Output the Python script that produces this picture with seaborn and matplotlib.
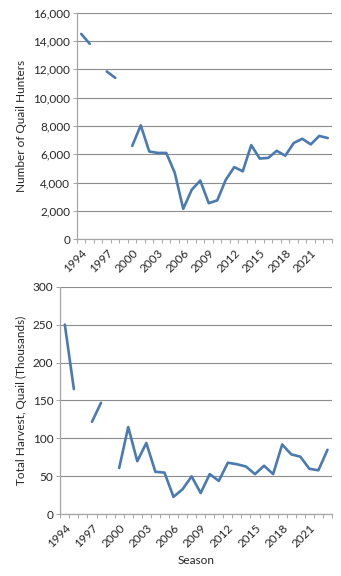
import numpy as np
import pandas as pd
import matplotlib
matplotlib.use("Agg")
import matplotlib.pyplot as plt
import matplotlib.ticker as mticker
import seaborn as sns

seasons = list(range(1994, 2024))
hunters = [14500, 13800, np.nan, 11850, 11400, np.nan, 6600, 8050, 6200, 6100,
           6100, 4700, 2150, 3500, 4150, 2550, 2750, 4200, 5100, 4800,
           6650, 5700, 5750, 6250, 5900, 6800, 7100, 6700, 7300, 7150]
harvest = [250, 165, np.nan, 122, 147, np.nan, 61, 115, 70, 94,
           56, 55, 23, 33, 50, 28, 53, 44, 68, 66,
           63, 53, 64, 53, 92, 79, 76, 60, 58, 85]
tick_years = list(range(1994, 2024, 3))

sns.set_theme(style="white")
plt.rcParams["font.family"] = ["Lato", "DejaVu Sans"]

LINE = "#4a7ab2"
GRID = "#8c8c8c"
AXIS = "#a6a6a6"
TEXT = "#262626"
FS = 8.5


def frame(values):
    df = pd.DataFrame({"season": seasons, "value": values})
    df["pos"] = np.arange(len(df))
    # consecutive runs of valid values become separate line segments
    df["seg"] = df["value"].isna().cumsum()
    return df.dropna()


def style(ax, ylim, step, fmt, ylabel, xlabel=None):
    n = len(seasons)
    ax.set_xlim(-0.5, n - 0.5)
    ax.set_ylim(*ylim)
    ax.yaxis.set_major_locator(mticker.MultipleLocator(step))
    ax.yaxis.set_major_formatter(mticker.FuncFormatter(fmt))
    ax.grid(axis="y", color=GRID, linewidth=0.8)
    ax.set_axisbelow(True)
    for s in ("top", "right"):
        ax.spines[s].set_visible(False)
    for s in ("left", "bottom"):
        ax.spines[s].set_color(AXIS)
        ax.spines[s].set_linewidth(0.9)
    ax.set_xticks([seasons.index(y) for y in tick_years])
    ax.set_xticklabels([str(y) for y in tick_years], rotation=45,
                       ha="right", rotation_mode="anchor", fontsize=FS,
                       color=TEXT)
    ax.tick_params(axis="x", which="major", length=0, pad=6)
    ax.set_xticks(np.arange(-0.5, n, 1.0), minor=True)
    ax.tick_params(axis="x", which="minor", length=3, width=0.7,
                   color=AXIS, direction="out", bottom=True)
    ax.tick_params(axis="y", length=3, width=0.7, color=AXIS, left=True,
                   labelsize=FS, labelcolor=TEXT, pad=2)
    ax.set_ylabel(ylabel, fontsize=FS, color=TEXT, labelpad=4)
    ax.set_xlabel(xlabel if xlabel else "", fontsize=FS, color=TEXT,
                  labelpad=4)


fig = plt.figure(figsize=(3.41, 5.76), dpi=100)
ax1 = fig.add_axes([0.2258, 0.5845, 0.7478, 0.3935])
ax2 = fig.add_axes([0.1768, 0.1071, 0.7968, 0.3952])

d1 = frame(hunters)
sns.lineplot(data=d1, x="pos", y="value", units="seg", estimator=None,
             color=LINE, linewidth=1.9, ax=ax1, legend=False)
style(ax1, (0, 16000), 2000, lambda v, p: f"{int(v):,}",
      "Number of Quail Hunters")

d2 = frame(harvest)
sns.lineplot(data=d2, x="pos", y="value", units="seg", estimator=None,
             color=LINE, linewidth=1.9, ax=ax2, legend=False)
style(ax2, (0, 300), 50, lambda v, p: f"{int(v)}",
      "Total Harvest, Quail (Thousands)", "Season")

fig.savefig("out.png", dpi=100)
